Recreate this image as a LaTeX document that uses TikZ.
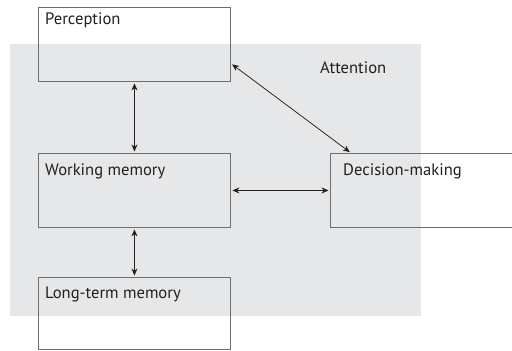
\documentclass[tikz,border=0pt]{standalone}
\usepackage{fontspec}
\setmainfont{PT Sans}
\usetikzlibrary{arrows.meta,calc}
\definecolor{attn}{HTML}{E6E7E8}
\definecolor{frame}{HTML}{6D6E70}
\definecolor{ink}{HTML}{231F20}
\tikzset{
  box/.style={draw=frame, line width=0.9pt, minimum width=192pt, minimum height=74pt,
              inner sep=0pt, anchor=north west},
  lbl/.style={anchor=base west, inner sep=0pt, text=ink, font=\fontsize{16.6}{19}\selectfont},
  link/.style={{Stealth[length=7pt,width=6pt]}-{Stealth[length=7pt,width=6pt]},
               line width=0.75pt, draw=ink, shorten <=1.5pt, shorten >=1.5pt}
}
\begin{document}
\begin{tikzpicture}[x=1pt,y=-1pt]
  \useasboundingbox (0,0) rectangle (512,351);
  \clip (0,0) rectangle (512,351);
  % attention region
  \fill[attn] (10,44) rectangle (421,316);
  \node[lbl] (attention) at (320,73) {Attention};
  % modules
  \node[box] (per) at (38,7) {};
  \node[box] (wm) at (38,153) {};
  \node[box, minimum height=72pt] (ltm) at (38,277) {};
  \node[box, minimum width=200pt] (dm) at (330,153) {};
  \node[lbl] (perT) at (45,24) {Perception};
  \node[lbl] (wmT) at (45,175) {Working memory};
  \node[lbl] (ltmT) at (45,298) {Long-term memory};
  \node[lbl] (dmT) at (343,175) {Decision-making};
  % connections
  \draw[link] (per.south) -- (wm.north);
  \draw[link] (wm.south) -- (ltm.north);
  \draw[link] (wm.east) -- (dm.west);
  \draw[link] ([yshift=-19pt]per.east) -- ([xshift=21pt]dm.north west);
\end{tikzpicture}
\end{document}
